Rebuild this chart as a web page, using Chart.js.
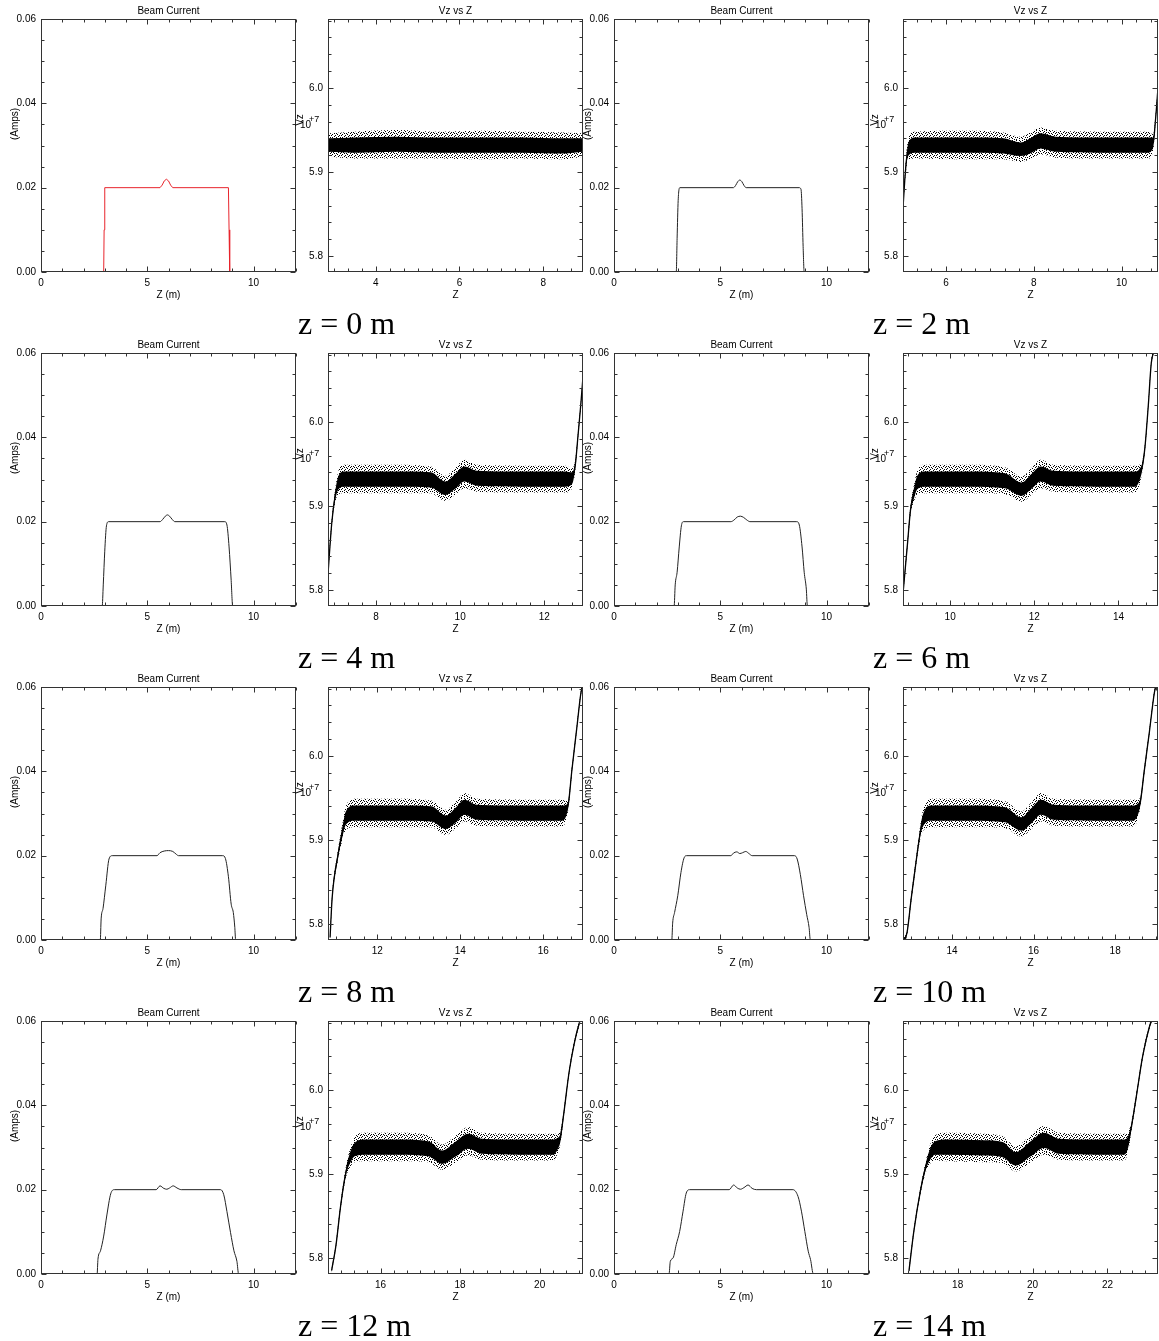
<!DOCTYPE html>
<html>
<head>
<meta charset="utf-8">
<script src="https://cdn.jsdelivr.net/npm/chart.js@4.4.1/dist/chart.umd.min.js"></script>
<style>
  html, body { margin: 0; padding: 0; background: #fff; }
  #page { position: relative; width: 1159px; height: 1341px; overflow: hidden; }
  .panel { position: absolute; }
  .cap { position: absolute; font: 32px 'Liberation Serif', 'Times New Roman', serif; color: #000; white-space: pre; line-height: 32px; }
</style>
</head>
<body>
<div id="page"></div>
<script>
// snapshot positions (m)
var stations = [0, 2, 4, 6, 8, 10, 12, 14];

// beam current profiles, Z (m) and current (A)
var curZ = [
  [0, 2.95, 2.97, 3.0, 5.6, 5.7, 5.8, 5.9, 6.0, 6.1, 6.2, 8.82, 8.85, 8.88, 12],
  [0, 2.93, 2.97, 3.02, 3.1, 5.62, 5.72, 5.82, 5.92, 6.02, 6.12, 6.22, 8.72, 8.8, 8.85, 8.9, 8.95, 12],
  [0, 2.88, 2.93, 3.0, 3.08, 3.18, 5.6, 5.72, 5.85, 5.95, 6.05, 6.18, 6.3, 8.65, 8.75, 8.85, 8.95, 9.02, 12],
  [0, 2.83, 2.88, 2.97, 3.07, 3.17, 3.27, 5.5, 5.65, 5.8, 5.95, 6.1, 6.25, 6.4, 8.6, 8.72, 8.85, 8.95, 9.05, 9.1, 12],
  [0, 2.79, 2.83, 2.92, 3.05, 3.2, 3.35, 5.46, 5.6, 5.8, 6.0, 6.2, 6.35, 6.47, 8.55, 8.68, 8.82, 8.95, 9.05, 9.12, 9.16, 12],
  [0, 2.72, 2.76, 2.85, 3.0, 3.15, 3.3, 3.42, 5.5, 5.62, 5.78, 5.92, 6.05, 6.2, 6.35, 6.5, 8.5, 8.62, 8.77, 8.92, 9.07, 9.18, 9.24, 12],
  [0, 2.64, 2.68, 2.8, 2.95, 3.1, 3.28, 3.45, 5.42, 5.6, 5.78, 5.92, 6.05, 6.22, 6.4, 6.6, 8.45, 8.6, 8.75, 8.92, 9.08, 9.22, 9.3, 12],
  [0, 2.59, 2.65, 2.78, 2.93, 3.09, 3.25, 3.4, 3.56, 5.42, 5.63, 5.8, 5.95, 6.12, 6.31, 6.5, 6.7, 8.42, 8.66, 8.82, 8.98, 9.14, 9.25, 9.38, 12]
];
var curAmps = [
  [0, 0, 0.01, 0.02, 0.02, 0.0206, 0.0216, 0.022, 0.0216, 0.0206, 0.02, 0.02, 0.01, 0, 0],
  [0, 0, 0.008, 0.017, 0.02, 0.02, 0.0205, 0.0214, 0.0218, 0.0214, 0.0205, 0.02, 0.02, 0.0196, 0.015, 0.006, 0, 0],
  [0, 0, 0.005, 0.013, 0.019, 0.02, 0.02, 0.0205, 0.0213, 0.0216, 0.0213, 0.0205, 0.02, 0.02, 0.0192, 0.014, 0.006, 0, 0],
  [0, 0, 0.005, 0.008, 0.014, 0.019, 0.02, 0.02, 0.0204, 0.0211, 0.0213, 0.021, 0.0204, 0.02, 0.02, 0.0192, 0.014, 0.008, 0.004, 0, 0],
  [0, 0, 0.005, 0.0075, 0.013, 0.0192, 0.02, 0.02, 0.0207, 0.0211, 0.0212, 0.021, 0.0204, 0.02, 0.02, 0.0193, 0.015, 0.0085, 0.0065, 0.003, 0, 0],
  [0, 0, 0.004, 0.0065, 0.0105, 0.016, 0.0195, 0.02, 0.02, 0.0206, 0.0209, 0.0205, 0.0207, 0.021, 0.0205, 0.02, 0.02, 0.0192, 0.0155, 0.0105, 0.006, 0.003, 0, 0],
  [0, 0, 0.0035, 0.0055, 0.009, 0.014, 0.019, 0.02, 0.02, 0.0209, 0.0203, 0.0201, 0.0204, 0.0209, 0.0204, 0.02, 0.02, 0.0188, 0.0148, 0.0098, 0.0055, 0.003, 0, 0],
  [0, 0, 0.003, 0.0038, 0.007, 0.0101, 0.0149, 0.0192, 0.02, 0.02, 0.0211, 0.0204, 0.0201, 0.0205, 0.0211, 0.0203, 0.02, 0.02, 0.0184, 0.0149, 0.0101, 0.0054, 0.0034, 0, 0]
];
var curTicksX = [0, 5, 10];
var curTicksY = [0, 0.02, 0.04, 0.06];

// Vz vs Z phase space: Z window, band centre, dense-core and halo half widths (units of 1e7 m/s)
var vzZmin = [2.86, 5.02, 6.86, 8.88, 10.81, 12.8, 14.68, 16.54];
var vzZmax = [8.95, 10.83, 12.92, 14.94, 16.96, 19.05, 21.09, 23.35];
var vzZ = [
  [2.87, 3.5, 4.5, 5.5, 6.5, 7.5, 8.5, 8.94],
  [5.02, 5.06, 5.1, 5.15, 5.3, 6.5, 7.3, 7.7, 7.95, 8.15, 8.5, 9.5, 10.6, 10.72, 10.77, 10.83],
  [6.86, 6.95, 7.03, 7.11, 7.25, 8.5, 9.3, 9.65, 9.9, 10.1, 10.4, 11.5, 12.5, 12.66, 12.74, 12.8, 12.87, 12.92],
  [8.87, 8.99, 9.06, 9.14, 9.22, 9.4, 10.5, 11.3, 11.7, 11.95, 12.15, 12.45, 13.5, 14.4, 14.5, 14.57, 14.63, 14.71, 14.78, 14.84],
  [10.86, 10.91, 11.04, 11.16, 11.24, 11.45, 12.5, 13.3, 13.65, 13.9, 14.1, 14.4, 15.5, 16.45, 16.55, 16.61, 16.69, 16.81, 16.91, 16.95],
  [12.82, 12.9, 13.0, 13.12, 13.2, 13.28, 13.5, 14.5, 15.3, 15.7, 15.95, 16.18, 16.5, 17.5, 18.45, 18.55, 18.62, 18.71, 18.84, 18.96, 19.0],
  [14.77, 14.88, 15.0, 15.13, 15.26, 15.35, 15.6, 16.5, 17.2, 17.55, 17.9, 18.2, 18.55, 19.5, 20.35, 20.45, 20.52, 20.61, 20.74, 20.86, 21.0, 21.03],
  [16.7, 16.83, 17.01, 17.15, 17.28, 17.4, 17.7, 18.7, 19.2, 19.55, 19.95, 20.3, 20.7, 21.7, 22.45, 22.55, 22.63, 22.76, 22.94, 23.12, 23.19]
];
var vzMid = [
  [5.932, 5.932, 5.933, 5.932, 5.932, 5.932, 5.931, 5.932],
  [5.857, 5.89, 5.915, 5.928, 5.932, 5.932, 5.931, 5.927, 5.932, 5.937, 5.933, 5.932, 5.932, 5.935, 5.96, 6.0],
  [5.819, 5.88, 5.912, 5.928, 5.932, 5.932, 5.931, 5.921, 5.93, 5.938, 5.933, 5.932, 5.932, 5.933, 5.95, 5.983, 6.022, 6.054],
  [5.79, 5.857, 5.896, 5.915, 5.928, 5.932, 5.932, 5.93, 5.92, 5.93, 5.938, 5.933, 5.932, 5.932, 5.937, 5.948, 5.97, 6.02, 6.07, 6.084],
  [5.784, 5.831, 5.879, 5.91, 5.926, 5.932, 5.932, 5.931, 5.921, 5.93, 5.939, 5.933, 5.932, 5.932, 5.935, 5.944, 5.982, 6.033, 6.075, 6.084],
  [5.78, 5.79, 5.83, 5.874, 5.902, 5.922, 5.932, 5.932, 5.93, 5.919, 5.929, 5.939, 5.933, 5.932, 5.932, 5.936, 5.946, 5.981, 6.029, 6.075, 6.084],
  [5.785, 5.815, 5.863, 5.902, 5.922, 5.929, 5.932, 5.932, 5.93, 5.92, 5.93, 5.939, 5.933, 5.932, 5.932, 5.936, 5.943, 5.973, 6.021, 6.053, 6.08, 6.084],
  [5.785, 5.832, 5.881, 5.909, 5.925, 5.931, 5.932, 5.931, 5.929, 5.918, 5.93, 5.94, 5.933, 5.932, 5.932, 5.938, 5.954, 5.989, 6.04, 6.075, 6.084]
];
var vzCore = [
  [0.008, 0.009, 0.009, 0.009, 0.009, 0.009, 0.009, 0.008],
  [0.002, 0.003, 0.005, 0.008, 0.009, 0.009, 0.009, 0.008, 0.009, 0.009, 0.009, 0.009, 0.009, 0.006, 0.003, 0.002],
  [0.002, 0.003, 0.005, 0.008, 0.009, 0.009, 0.009, 0.008, 0.009, 0.009, 0.009, 0.009, 0.009, 0.007, 0.004, 0.003, 0.002, 0.002],
  [0.002, 0.003, 0.004, 0.006, 0.008, 0.009, 0.009, 0.009, 0.008, 0.009, 0.009, 0.009, 0.009, 0.009, 0.007, 0.004, 0.003, 0.002, 0.002, 0.002],
  [0.002, 0.003, 0.004, 0.006, 0.008, 0.009, 0.009, 0.009, 0.008, 0.009, 0.009, 0.009, 0.009, 0.009, 0.007, 0.004, 0.003, 0.002, 0.002, 0.002],
  [0.002, 0.002, 0.003, 0.003, 0.004, 0.007, 0.009, 0.009, 0.009, 0.008, 0.009, 0.009, 0.009, 0.009, 0.009, 0.007, 0.004, 0.003, 0.002, 0.002, 0.002],
  [0.002, 0.002, 0.003, 0.004, 0.007, 0.008, 0.009, 0.009, 0.009, 0.008, 0.009, 0.009, 0.009, 0.009, 0.009, 0.007, 0.005, 0.003, 0.002, 0.002, 0.002, 0.002],
  [0.002, 0.002, 0.003, 0.004, 0.007, 0.008, 0.009, 0.009, 0.009, 0.008, 0.009, 0.009, 0.009, 0.009, 0.009, 0.007, 0.004, 0.003, 0.002, 0.002, 0.002]
];
var vzHalo = [
  [0.014, 0.016, 0.017, 0.016, 0.017, 0.016, 0.016, 0.014],
  [0.003, 0.005, 0.009, 0.014, 0.016, 0.017, 0.016, 0.015, 0.016, 0.016, 0.016, 0.016, 0.016, 0.01, 0.004, 0.003],
  [0.003, 0.005, 0.008, 0.014, 0.017, 0.017, 0.016, 0.015, 0.016, 0.017, 0.016, 0.016, 0.016, 0.012, 0.006, 0.004, 0.003, 0.003],
  [0.003, 0.004, 0.006, 0.01, 0.014, 0.017, 0.017, 0.016, 0.015, 0.016, 0.017, 0.016, 0.016, 0.016, 0.012, 0.006, 0.004, 0.003, 0.003, 0.003],
  [0.003, 0.004, 0.006, 0.01, 0.014, 0.017, 0.017, 0.016, 0.015, 0.016, 0.017, 0.016, 0.016, 0.016, 0.012, 0.006, 0.004, 0.003, 0.003, 0.003],
  [0.003, 0.003, 0.004, 0.005, 0.007, 0.012, 0.017, 0.017, 0.016, 0.015, 0.016, 0.017, 0.016, 0.016, 0.016, 0.012, 0.006, 0.004, 0.003, 0.003, 0.003],
  [0.003, 0.003, 0.004, 0.007, 0.012, 0.015, 0.017, 0.017, 0.016, 0.015, 0.016, 0.017, 0.016, 0.016, 0.016, 0.012, 0.008, 0.004, 0.003, 0.003, 0.003, 0.003],
  [0.003, 0.003, 0.004, 0.007, 0.012, 0.015, 0.017, 0.017, 0.016, 0.015, 0.016, 0.017, 0.016, 0.016, 0.016, 0.012, 0.006, 0.004, 0.003, 0.003, 0.003]
];
var vzMin = 5.781, vzMax = 6.082;
var vzTicksY = [5.8, 5.9, 6.0];

var FONT = "'Liberation Sans', Arial, Helvetica, sans-serif";
var PW = 255, PH = 253;
var colLeft = [41, 328, 614, 903];
var rowTop = [19, 353, 687, 1021];
var capLeft = [298, 873];
var page = document.getElementById('page');

// speckle texture for the sparse edge of the particle cloud
function speckle() {
  var rows = [
    '1000100100',
    '0010000010',
    '0100101000',
    '0001000101',
    '1000010000',
    '0010100010',
    '0100000100',
    '0001010001',
    '1000000100',
    '0010100000'
  ];
  var c = document.createElement('canvas');
  c.width = 10; c.height = 10;
  var g = c.getContext('2d');
  g.fillStyle = '#000';
  rows.forEach(function (r, j) {
    for (var i = 0; i < r.length; i++) if (r[i] === '1') g.fillRect(i, j, 1, 1);
  });
  return g.createPattern(c, 'repeat');
}

function stepsOf(min, max, step) {
  var out = [];
  for (var k = Math.ceil(min / step - 1e-9); k * step <= max + 1e-9; k++) out.push(k * step);
  return out;
}
function isMajor(v, list) {
  return list.some(function (m) { return Math.abs(v - m) < 1e-6; });
}

// IDL style box with inward ticks plus titles
var deco = {
  id: 'deco',
  afterDraw: function (chart, args, o) {
    var ctx = chart.ctx, a = chart.chartArea, xs = chart.scales.x, ys = chart.scales.y;
    var L = Math.round(a.left) + 0.5, R = Math.round(a.right) - 0.5;
    var T = Math.round(a.top) + 0.5, B = Math.round(a.bottom) - 0.5;
    ctx.save();
    ctx.strokeStyle = '#333';
    ctx.lineWidth = 1;
    ctx.strokeRect(L, T, R - L, B - T);
    ctx.beginPath();
    stepsOf(xs.min, xs.max, o.xMinor).forEach(function (v) {
      var len = isMajor(v, o.xMajor) ? 5 : 3;
      var px = Math.round(xs.getPixelForValue(v)) + 0.5;
      ctx.moveTo(px, B); ctx.lineTo(px, B - len);
      ctx.moveTo(px, T); ctx.lineTo(px, T + len);
    });
    stepsOf(ys.min, ys.max, o.yMinor).forEach(function (v) {
      var len = isMajor(v, o.yMajor) ? 5 : 3;
      var py = Math.round(ys.getPixelForValue(v)) + 0.5;
      ctx.moveTo(L, py); ctx.lineTo(L + len, py);
      ctx.moveTo(R, py); ctx.lineTo(R - len, py);
    });
    ctx.stroke();

    ctx.fillStyle = '#000';
    ctx.font = '10px ' + FONT;
    ctx.textAlign = 'center';
    ctx.textBaseline = 'middle';
    var cx = (a.left + a.right) / 2;
    ctx.fillText(o.title, cx, a.top - 8);
    ctx.fillText(o.xTitle, cx, a.bottom + 23);
    if (o.kind === 'cur') {
      ctx.save();
      ctx.translate(a.left - 26, a.top + 105);
      ctx.rotate(-Math.PI / 2);
      ctx.fillText('(Amps)', 0, 0);
      ctx.restore();
    } else {
      ctx.save();
      ctx.translate(a.left - 28, a.top + 101);
      ctx.rotate(-Math.PI / 2);
      ctx.fillText('Vz', 0, 0);
      ctx.restore();
      ctx.textAlign = 'left';
      ctx.fillText('10', a.left - 28, a.top + 106);
      ctx.font = '9px ' + FONT;
      ctx.fillText('+7', a.left - 19, a.top + 101);
    }
    ctx.restore();
  }
};

function makeCanvas(plotLeft, plotTop) {
  var W = 41 + PW + 3, H = 19 + PH + 34;
  var box = document.createElement('div');
  box.className = 'panel';
  box.style.left = (plotLeft - 41) + 'px';
  box.style.top = (plotTop - 19) + 'px';
  var cv = document.createElement('canvas');
  cv.width = W; cv.height = H;
  cv.style.width = W + 'px'; cv.style.height = H + 'px';
  box.appendChild(cv);
  page.appendChild(box);
  return cv;
}

function axis(min, max, majors, fmt) {
  return {
    type: 'linear', min: min, max: max,
    grid: { display: false, drawTicks: false }, border: { display: false },
    afterBuildTicks: function (s) { s.ticks = majors.map(function (v) { return { value: v }; }); },
    ticks: {
      padding: 5, maxRotation: 0, autoSkip: false, color: '#000',
      font: { size: 10, family: FONT },
      callback: fmt
    }
  };
}

function baseOptions(xAxis, yAxis, decoOpts) {
  xAxis.afterFit = function (s) { s.height = 34; };
  yAxis.afterFit = function (s) { s.width = 41; };
  return {
    responsive: false, animation: false, events: [],
    layout: { padding: { left: 0, top: 19, right: 3, bottom: 0 } },
    elements: { point: { radius: 0 }, line: { tension: 0 } },
    plugins: { legend: { display: false }, tooltip: { enabled: false }, title: { display: false }, deco: decoOpts },
    scales: { x: xAxis, y: yAxis }
  };
}

function currentChart(s, left, top) {
  var cv = makeCanvas(left, top);
  var pts = curZ[s].map(function (z, i) { return { x: z, y: curAmps[s][i] }; });
  new Chart(cv, {
    type: 'line',
    data: {
      datasets: [{
        data: pts, borderColor: s === 0 ? '#e8242c' : '#222', borderWidth: 1, fill: false,
        cubicInterpolationMode: s === 0 ? 'default' : 'monotone'
      }]
    },
    options: baseOptions(
      axis(0, 12, curTicksX, function (v) { return String(v); }),
      axis(0, 0.06, curTicksY, function (v) { return v.toFixed(2); }),
      { kind: 'cur', title: 'Beam Current', xTitle: 'Z (m)', xMajor: curTicksX, xMinor: 1, yMajor: curTicksY, yMinor: 0.005 }
    ),
    plugins: [deco]
  });
}

function vzChart(s, left, top, pattern) {
  var cv = makeCanvas(left, top);
  var zs = vzZ[s], mid = vzMid[s];
  function edge(w, sign) {
    return zs.map(function (z, i) { return { x: z, y: mid[i] + sign * w[i] }; });
  }
  var xt = stepsOf(vzZmin[s], vzZmax[s], 2);
  var band = { borderWidth: 0, borderColor: 'rgba(0,0,0,0)', cubicInterpolationMode: 'monotone' };
  new Chart(cv, {
    type: 'line',
    data: {
      datasets: [
        Object.assign({ data: edge(vzHalo[s], 1), backgroundColor: pattern, fill: '+1', order: 3 }, band),
        Object.assign({ data: edge(vzHalo[s], -1), fill: false, order: 3 }, band),
        Object.assign({ data: edge(vzCore[s], 1), backgroundColor: '#000', fill: '+1', order: 2 }, band),
        Object.assign({ data: edge(vzCore[s], -1), fill: false, order: 2 }, band),
        {
          data: zs.map(function (z, i) { return { x: z, y: mid[i] }; }),
          borderColor: '#000', borderWidth: 1.3, fill: false, order: 1, cubicInterpolationMode: 'monotone'
        }
      ]
    },
    options: baseOptions(
      axis(vzZmin[s], vzZmax[s], xt, function (v) { return String(Math.round(v)); }),
      axis(vzMin, vzMax, vzTicksY, function (v) { return v.toFixed(1); }),
      { kind: 'vz', title: 'Vz vs Z', xTitle: 'Z', xMajor: xt, xMinor: 1 / 3, yMajor: vzTicksY, yMinor: 0.02 }
    ),
    plugins: [deco]
  });
}

var pat = speckle();
rowTop.forEach(function (top, r) {
  [0, 1].forEach(function (p) {
    var s = r * 2 + p;
    currentChart(s, colLeft[p * 2], top);
    vzChart(s, colLeft[p * 2 + 1], top, pat);
    var cap = document.createElement('div');
    cap.className = 'cap';
    cap.textContent = 'z = ' + stations[s] + ' m';
    cap.style.left = capLeft[p] + 'px';
    cap.style.top = (top + 288) + 'px';
    page.appendChild(cap);
  });
});
</script>
</body>
</html>
